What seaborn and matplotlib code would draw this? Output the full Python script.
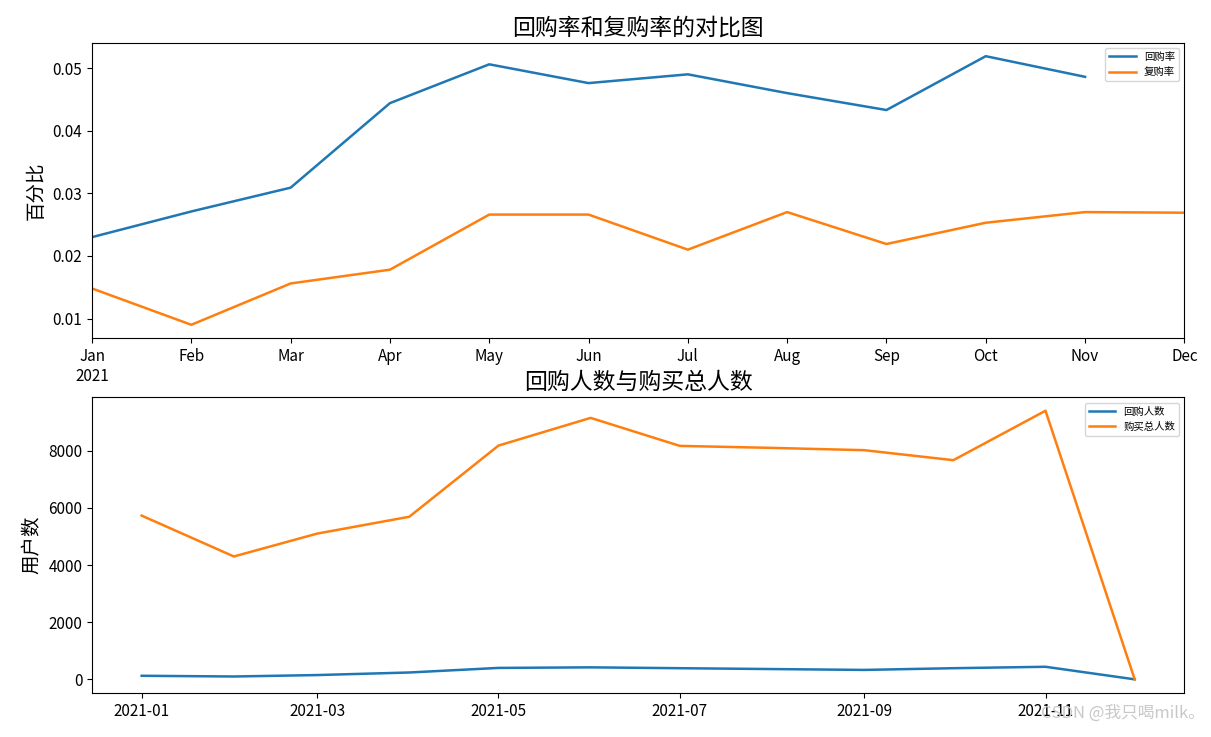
import numpy as np
import pandas as pd
import matplotlib
matplotlib.use("Agg")
import matplotlib.pyplot as plt
import matplotlib.dates as mdates
import seaborn as sns

plt.rcParams['font.family'] = ['Noto Sans CJK SC', 'DejaVu Sans']
plt.rcParams['axes.unicode_minus'] = False

# monthly data, 2021
months = ["Jan", "Feb", "Mar", "Apr", "May", "Jun", "Jul", "Aug", "Sep", "Oct", "Nov", "Dec"]
month_dates = pd.date_range("2021-01-01", periods=12, freq="MS")
huigou_rate = [0.0230, 0.0271, 0.0309, 0.0444, 0.0506, 0.0476, 0.0490, 0.0460, 0.0433, 0.0519, 0.0486, np.nan]
fugou_rate = [0.0148, 0.0090, 0.0156, 0.0178, 0.0266, 0.0266, 0.0210, 0.0270, 0.0219, 0.0253, 0.0270, 0.0269]
huigou_users = [125, 100, 150, 240, 400, 420, 390, 360, 330, 390, 440, 0]
total_users = [5730, 4300, 5100, 5690, 8180, 9150, 8170, 8100, 8020, 7670, 9400, 0]

fig, (ax1, ax2) = plt.subplots(2, 1, figsize=(12.11, 7.37), dpi=100)
fig.subplots_adjust(left=0.076, right=0.978, top=0.942, bottom=0.06, hspace=0.2)

# top: rates
x = np.arange(len(months))
sns.lineplot(x=x, y=huigou_rate, label="回购率", ax=ax1, color="#1f77b4", linewidth=1.8)
sns.lineplot(x=x, y=fugou_rate, label="复购率", ax=ax1, color="#ff7f0e", linewidth=1.8)
ax1.set_xlim(0, 11)
ax1.set_xticks(x)
ax1.set_xticklabels(["Jan\n2021"] + months[1:], fontsize=11)
ax1.tick_params(axis="y", labelsize=11)
ax1.set_title("回购率和复购率的对比图", fontsize=16.5)
ax1.set_ylabel("百分比", fontsize=14)
# the month label ends up mostly hidden under the lower panel, as in the original
ax1.set_xlabel("Month", fontsize=11, labelpad=9)
ax1.legend(loc="upper right", fontsize=7.5, handlelength=2.5)

# bottom: user counts
sns.lineplot(x=month_dates, y=huigou_users, label="回购人数", ax=ax2, color="#1f77b4", linewidth=1.8)
sns.lineplot(x=month_dates, y=total_users, label="购买总人数", ax=ax2, color="#ff7f0e", linewidth=1.8)
ax2.xaxis.set_major_locator(mdates.MonthLocator(bymonth=[1, 3, 5, 7, 9, 11]))
ax2.xaxis.set_major_formatter(mdates.DateFormatter("%Y-%m"))
ax2.tick_params(labelsize=11)
ax2.set_title("回购人数与购买总人数", fontsize=16.5)
ax2.set_ylabel("用户数", fontsize=14)
ax2.set_xlabel("")
ax2.legend(loc="upper right", fontsize=7.5, handlelength=2.5)

fig.text(0.995, 0.02, "CSDN @我只喝milk。", ha="right", va="bottom", fontsize=12, color="#c8c8c8")

fig.savefig("out.png", dpi=100)
